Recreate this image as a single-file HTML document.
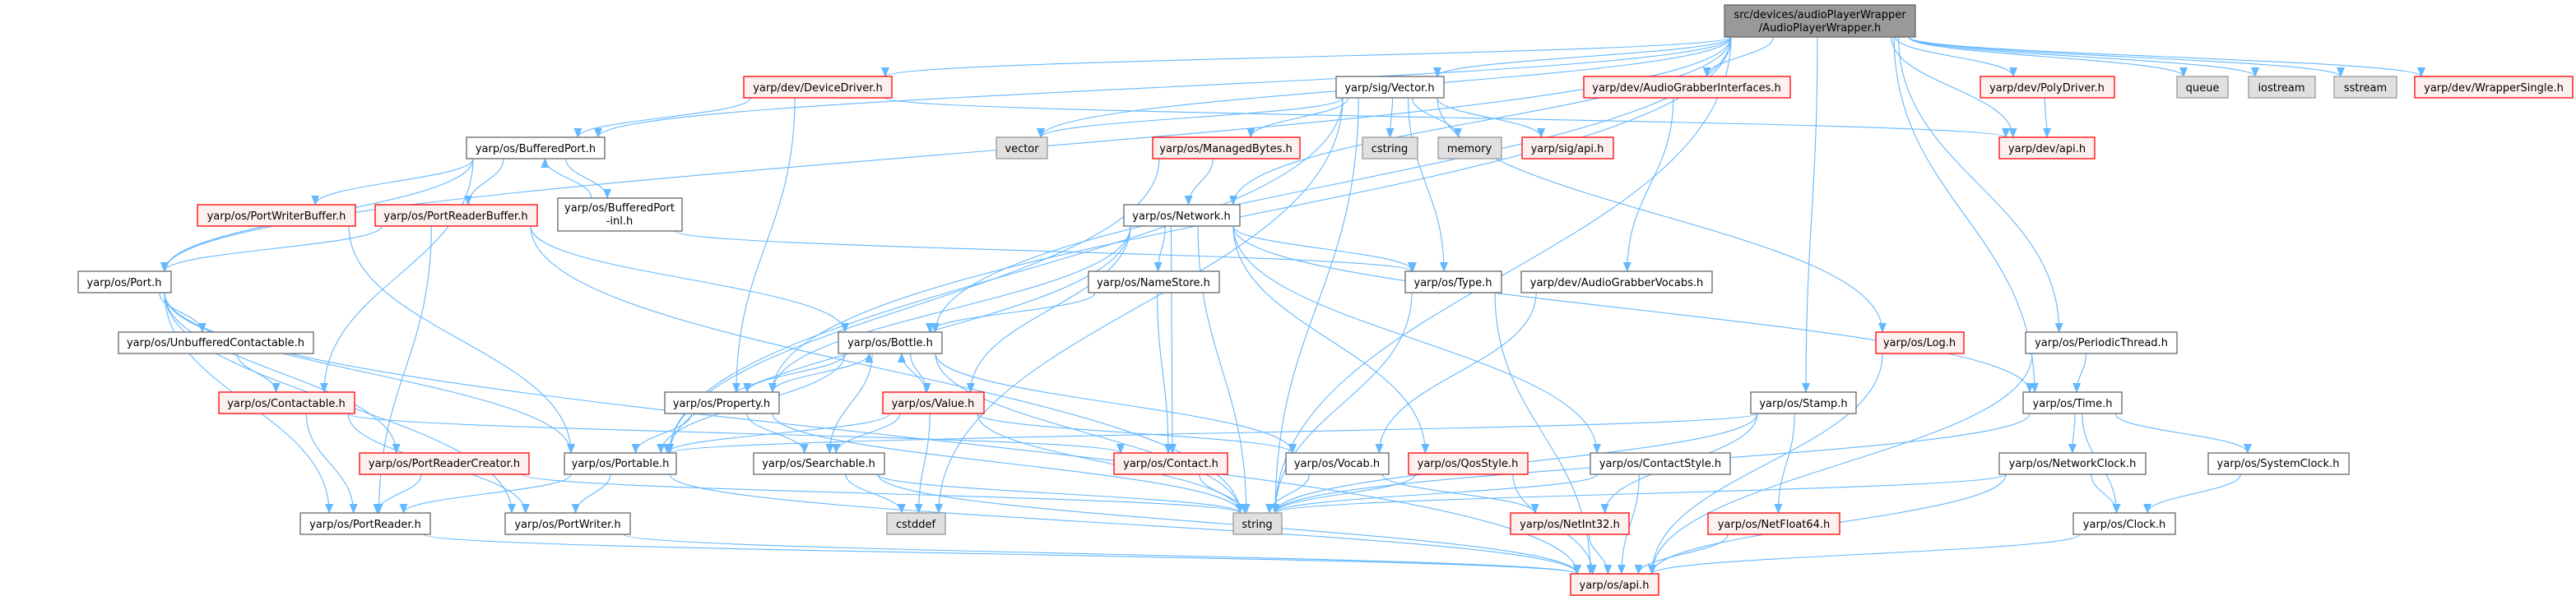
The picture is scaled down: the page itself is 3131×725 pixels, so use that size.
<!DOCTYPE html>
<html><head><meta charset="utf-8"><style>
html,body{margin:0;padding:0;background:#fff;}
svg{display:block;}
text{font-family:"DejaVu Sans","Liberation Sans",sans-serif;font-size:13px;fill:#000;}
</style></head><body>
<svg id="g" width="3131" height="725" viewBox="0 0 3131 725" xmlns="http://www.w3.org/2000/svg">
<defs><marker id="ar" markerWidth="12" markerHeight="10" refX="11" refY="5" orient="auto" markerUnits="userSpaceOnUse"><path d="M0,0 L12,5 L0,10 z" fill="#63b8ff"/></marker></defs>
<g id="edges" fill="none" stroke="#63b8ff" stroke-width="1.1"></g>
<g id="nodes"></g>
<g id="labels">
<text x="2212" y="22" text-anchor="middle">src/devices/audioPlayerWrapper</text>
<text x="2212" y="38" text-anchor="middle">/AudioPlayerWrapper.h</text>
<text x="994" y="111" text-anchor="middle">yarp/dev/DeviceDriver.h</text>
<text x="1689" y="111" text-anchor="middle">yarp/sig/Vector.h</text>
<text x="2050" y="111" text-anchor="middle">yarp/dev/AudioGrabberInterfaces.h</text>
<text x="2488" y="111" text-anchor="middle">yarp/dev/PolyDriver.h</text>
<text x="2677" y="111" text-anchor="middle">queue</text>
<text x="2773" y="111" text-anchor="middle">iostream</text>
<text x="2875" y="111" text-anchor="middle">sstream</text>
<text x="3031" y="111" text-anchor="middle">yarp/dev/WrapperSingle.h</text>
<text x="651" y="185" text-anchor="middle">yarp/os/BufferedPort.h</text>
<text x="1242" y="185" text-anchor="middle">vector</text>
<text x="1490" y="185" text-anchor="middle">yarp/os/ManagedBytes.h</text>
<text x="1689" y="185" text-anchor="middle">cstring</text>
<text x="1786" y="185" text-anchor="middle">memory</text>
<text x="1905" y="185" text-anchor="middle">yarp/sig/api.h</text>
<text x="2488" y="185" text-anchor="middle">yarp/dev/api.h</text>
<text x="336" y="267" text-anchor="middle">yarp/os/PortWriterBuffer.h</text>
<text x="554" y="267" text-anchor="middle">yarp/os/PortReaderBuffer.h</text>
<text x="753" y="257" text-anchor="middle">yarp/os/BufferedPort</text>
<text x="753" y="273" text-anchor="middle">-inl.h</text>
<text x="1436" y="267" text-anchor="middle">yarp/os/Network.h</text>
<text x="151" y="348" text-anchor="middle">yarp/os/Port.h</text>
<text x="1402" y="348" text-anchor="middle">yarp/os/NameStore.h</text>
<text x="1766" y="348" text-anchor="middle">yarp/os/Type.h</text>
<text x="1965" y="348" text-anchor="middle">yarp/dev/AudioGrabberVocabs.h</text>
<text x="262" y="421" text-anchor="middle">yarp/os/UnbufferedContactable.h</text>
<text x="1082" y="421" text-anchor="middle">yarp/os/Bottle.h</text>
<text x="2333" y="421" text-anchor="middle">yarp/os/Log.h</text>
<text x="2554" y="421" text-anchor="middle">yarp/os/PeriodicThread.h</text>
<text x="348" y="495" text-anchor="middle">yarp/os/Contactable.h</text>
<text x="877" y="495" text-anchor="middle">yarp/os/Property.h</text>
<text x="1134" y="495" text-anchor="middle">yarp/os/Value.h</text>
<text x="2192" y="495" text-anchor="middle">yarp/os/Stamp.h</text>
<text x="2519" y="495" text-anchor="middle">yarp/os/Time.h</text>
<text x="540" y="568" text-anchor="middle">yarp/os/PortReaderCreator.h</text>
<text x="754" y="568" text-anchor="middle">yarp/os/Portable.h</text>
<text x="995" y="568" text-anchor="middle">yarp/os/Searchable.h</text>
<text x="1423" y="568" text-anchor="middle">yarp/os/Contact.h</text>
<text x="1625" y="568" text-anchor="middle">yarp/os/Vocab.h</text>
<text x="1784" y="568" text-anchor="middle">yarp/os/QosStyle.h</text>
<text x="2018" y="568" text-anchor="middle">yarp/os/ContactStyle.h</text>
<text x="2519" y="568" text-anchor="middle">yarp/os/NetworkClock.h</text>
<text x="2769" y="568" text-anchor="middle">yarp/os/SystemClock.h</text>
<text x="444" y="642" text-anchor="middle">yarp/os/PortReader.h</text>
<text x="690" y="642" text-anchor="middle">yarp/os/PortWriter.h</text>
<text x="1113" y="642" text-anchor="middle">cstddef</text>
<text x="1528" y="642" text-anchor="middle">string</text>
<text x="1908" y="642" text-anchor="middle">yarp/os/NetInt32.h</text>
<text x="2156" y="642" text-anchor="middle">yarp/os/NetFloat64.h</text>
<text x="2582" y="642" text-anchor="middle">yarp/os/Clock.h</text>
<text x="1962" y="716" text-anchor="middle">yarp/os/api.h</text>
</g>
</svg>
<script>
var N={
main:[2096,2328,6,39,'m'],
DD:[904,1084,93,26,'r'],Vec:[1624,1755,93,26,'w'],AGI:[1925,2176,93,26,'r'],Poly:[2407,2570,93,26,'r'],queue:[2646,2708,93,26,'g'],ios:[2733,2814,93,26,'g'],sst:[2837,2913,93,26,'g'],WS:[2935,3127,93,26,'r'],
BP:[567,735,167,26,'w'],vector:[1211,1273,167,26,'g'],MB:[1401,1580,167,26,'r'],cstring:[1656,1723,167,26,'g'],memory:[1748,1825,167,26,'g'],sigapi:[1850,1961,167,26,'r'],devapi:[2430,2546,167,26,'r'],
PWB:[240,432,249,26,'r'],PRB:[456,653,249,26,'r'],BPI:[678,829,241,40,'w'],Net:[1366,1507,249,26,'w'],
Port:[95,208,330,26,'w'],NS:[1323,1482,330,26,'w'],Type:[1708,1825,330,26,'w'],AGV:[1849,2081,330,26,'w'],
Unb:[144,381,404,26,'w'],Bottle:[1019,1145,404,26,'w'],Log:[2280,2387,404,26,'r'],PT:[2462,2646,404,26,'w'],
Cont:[266,431,477,26,'r'],Prop:[808,947,477,26,'w'],Val:[1073,1196,477,26,'r'],Stamp:[2128,2256,477,26,'w'],Time:[2459,2579,477,26,'w'],
PRC:[437,643,551,26,'r'],Portable:[686,822,551,26,'w'],Search:[916,1075,551,26,'w'],Contact:[1354,1492,551,26,'r'],Vocab:[1563,1688,551,26,'w'],Qos:[1712,1857,551,26,'r'],CS:[1933,2103,551,26,'w'],NC:[2430,2608,551,26,'w'],SC:[2684,2855,551,26,'w'],
PR:[365,523,624,26,'w'],PW:[614,766,624,26,'w'],cstddef:[1078,1149,624,26,'g'],string:[1499,1558,624,26,'g'],NI:[1836,1980,624,26,'r'],NF:[2076,2236,624,26,'r'],Clock:[2520,2644,624,26,'w'],
osapi:[1909,2016,698,26,'r']};
var E="main BP,main Port,main DD,main Prop,main Bottle,main Net,main vector,main Vec,main AGI,main string,main Stamp,main Time,main PT,main Poly,main devapi,main queue,main ios,main sst,main WS,"+
"BP Port,BP PWB,BP PRB,BP BPI,BP Cont,BPI BP,BPI Type,DD Prop,DD devapi,DD BP,PWB Portable,PRB Port,PRB PR,PRB Bottle,PRB string,"+
"Port Unb,Port PRC,Port Portable,Port PR,Port PW,Port osapi,Unb Cont,Cont PR,Cont PW,Cont Contact,PRC PR,PRC string,Portable PR,Portable PW,Portable osapi,PR osapi,PW osapi,"+
"Vec vector,Vec cstring,Vec memory,Vec sigapi,Vec MB,Vec Portable,Vec Type,Vec Log,Vec string,Vec cstddef,MB Net,MB Portable,"+
"Net NS,Net Prop,Net Portable,Net Val,Net Contact,Net Qos,Net CS,Net Time,Net string,Net Type,NS Bottle,NS Contact,"+
"Bottle Prop,Bottle Val,Bottle Search,Bottle Portable,Bottle Vocab,Bottle string,Prop Bottle,Prop Portable,Prop Search,Prop string,"+
"Val Bottle,Val Search,Val Portable,Val Vocab,Val string,Val cstddef,Search cstddef,Search string,Search osapi,Contact string,Type string,Type osapi,"+
"AGI AGV,AGV Vocab,Log osapi,Stamp Portable,Stamp string,Stamp NI,Stamp NF,Vocab string,Vocab NI,Qos string,Qos osapi,CS string,CS osapi,NI osapi,NF osapi,"+
"Poly devapi,PT Time,PT osapi,Time NC,Time SC,Time Clock,Time string,NC Clock,NC string,NC osapi,SC Clock,Clock osapi";
var NS='http://www.w3.org/2000/svg';
var ng=document.getElementById('nodes'),eg=document.getElementById('edges');
var col={w:['#ffffff','#666666'],r:['#fff0f0','#ff0000'],g:['#e0e0e0','#999999'],m:['#999999','#666666']};
for(var k in N){var n=N[k],r=document.createElementNS(NS,'rect');
r.setAttribute('x',n[0]);r.setAttribute('y',n[2]);r.setAttribute('width',n[1]-n[0]);r.setAttribute('height',n[3]);
r.setAttribute('fill',col[n[4]][0]);r.setAttribute('stroke',col[n[4]][1]);r.setAttribute('stroke-width','1.3');ng.appendChild(r);}
function cl(v,a,b){return Math.max(a,Math.min(b,v));}
E.split(',').forEach(function(p,i){var s=N[p.split(' ')[0]],t=N[p.split(' ')[1]];if(!s||!t)return;
var sc=(s[0]+s[1])/2,tc=(t[0]+t[1])/2,x1,y1,x2,y2,d;
var jit=((i*37)%21)-10;
if(t[2]>s[2]){x1=cl(sc+(tc-sc)*0.3+jit,s[0]+8,s[1]-8);y1=s[2]+s[3];x2=cl(tc+(sc-tc)*0.15,t[0]+8,t[1]-8);y2=t[2];}
else{x1=cl(sc+(tc-sc)*0.3+jit,s[0]+8,s[1]-8);y1=s[2];x2=cl(tc+(sc-tc)*0.15+jit,t[0]+8,t[1]-8);y2=t[2]+t[3];}
d=(y2-y1)*0.45;
var path=document.createElementNS(NS,'path');
path.setAttribute('d','M'+x1+','+y1+' C'+x1+','+(y1+d)+' '+x2+','+(y2-d)+' '+x2+','+y2);
path.setAttribute('marker-end','url(#ar)');eg.appendChild(path);});
</script>
</body></html>
